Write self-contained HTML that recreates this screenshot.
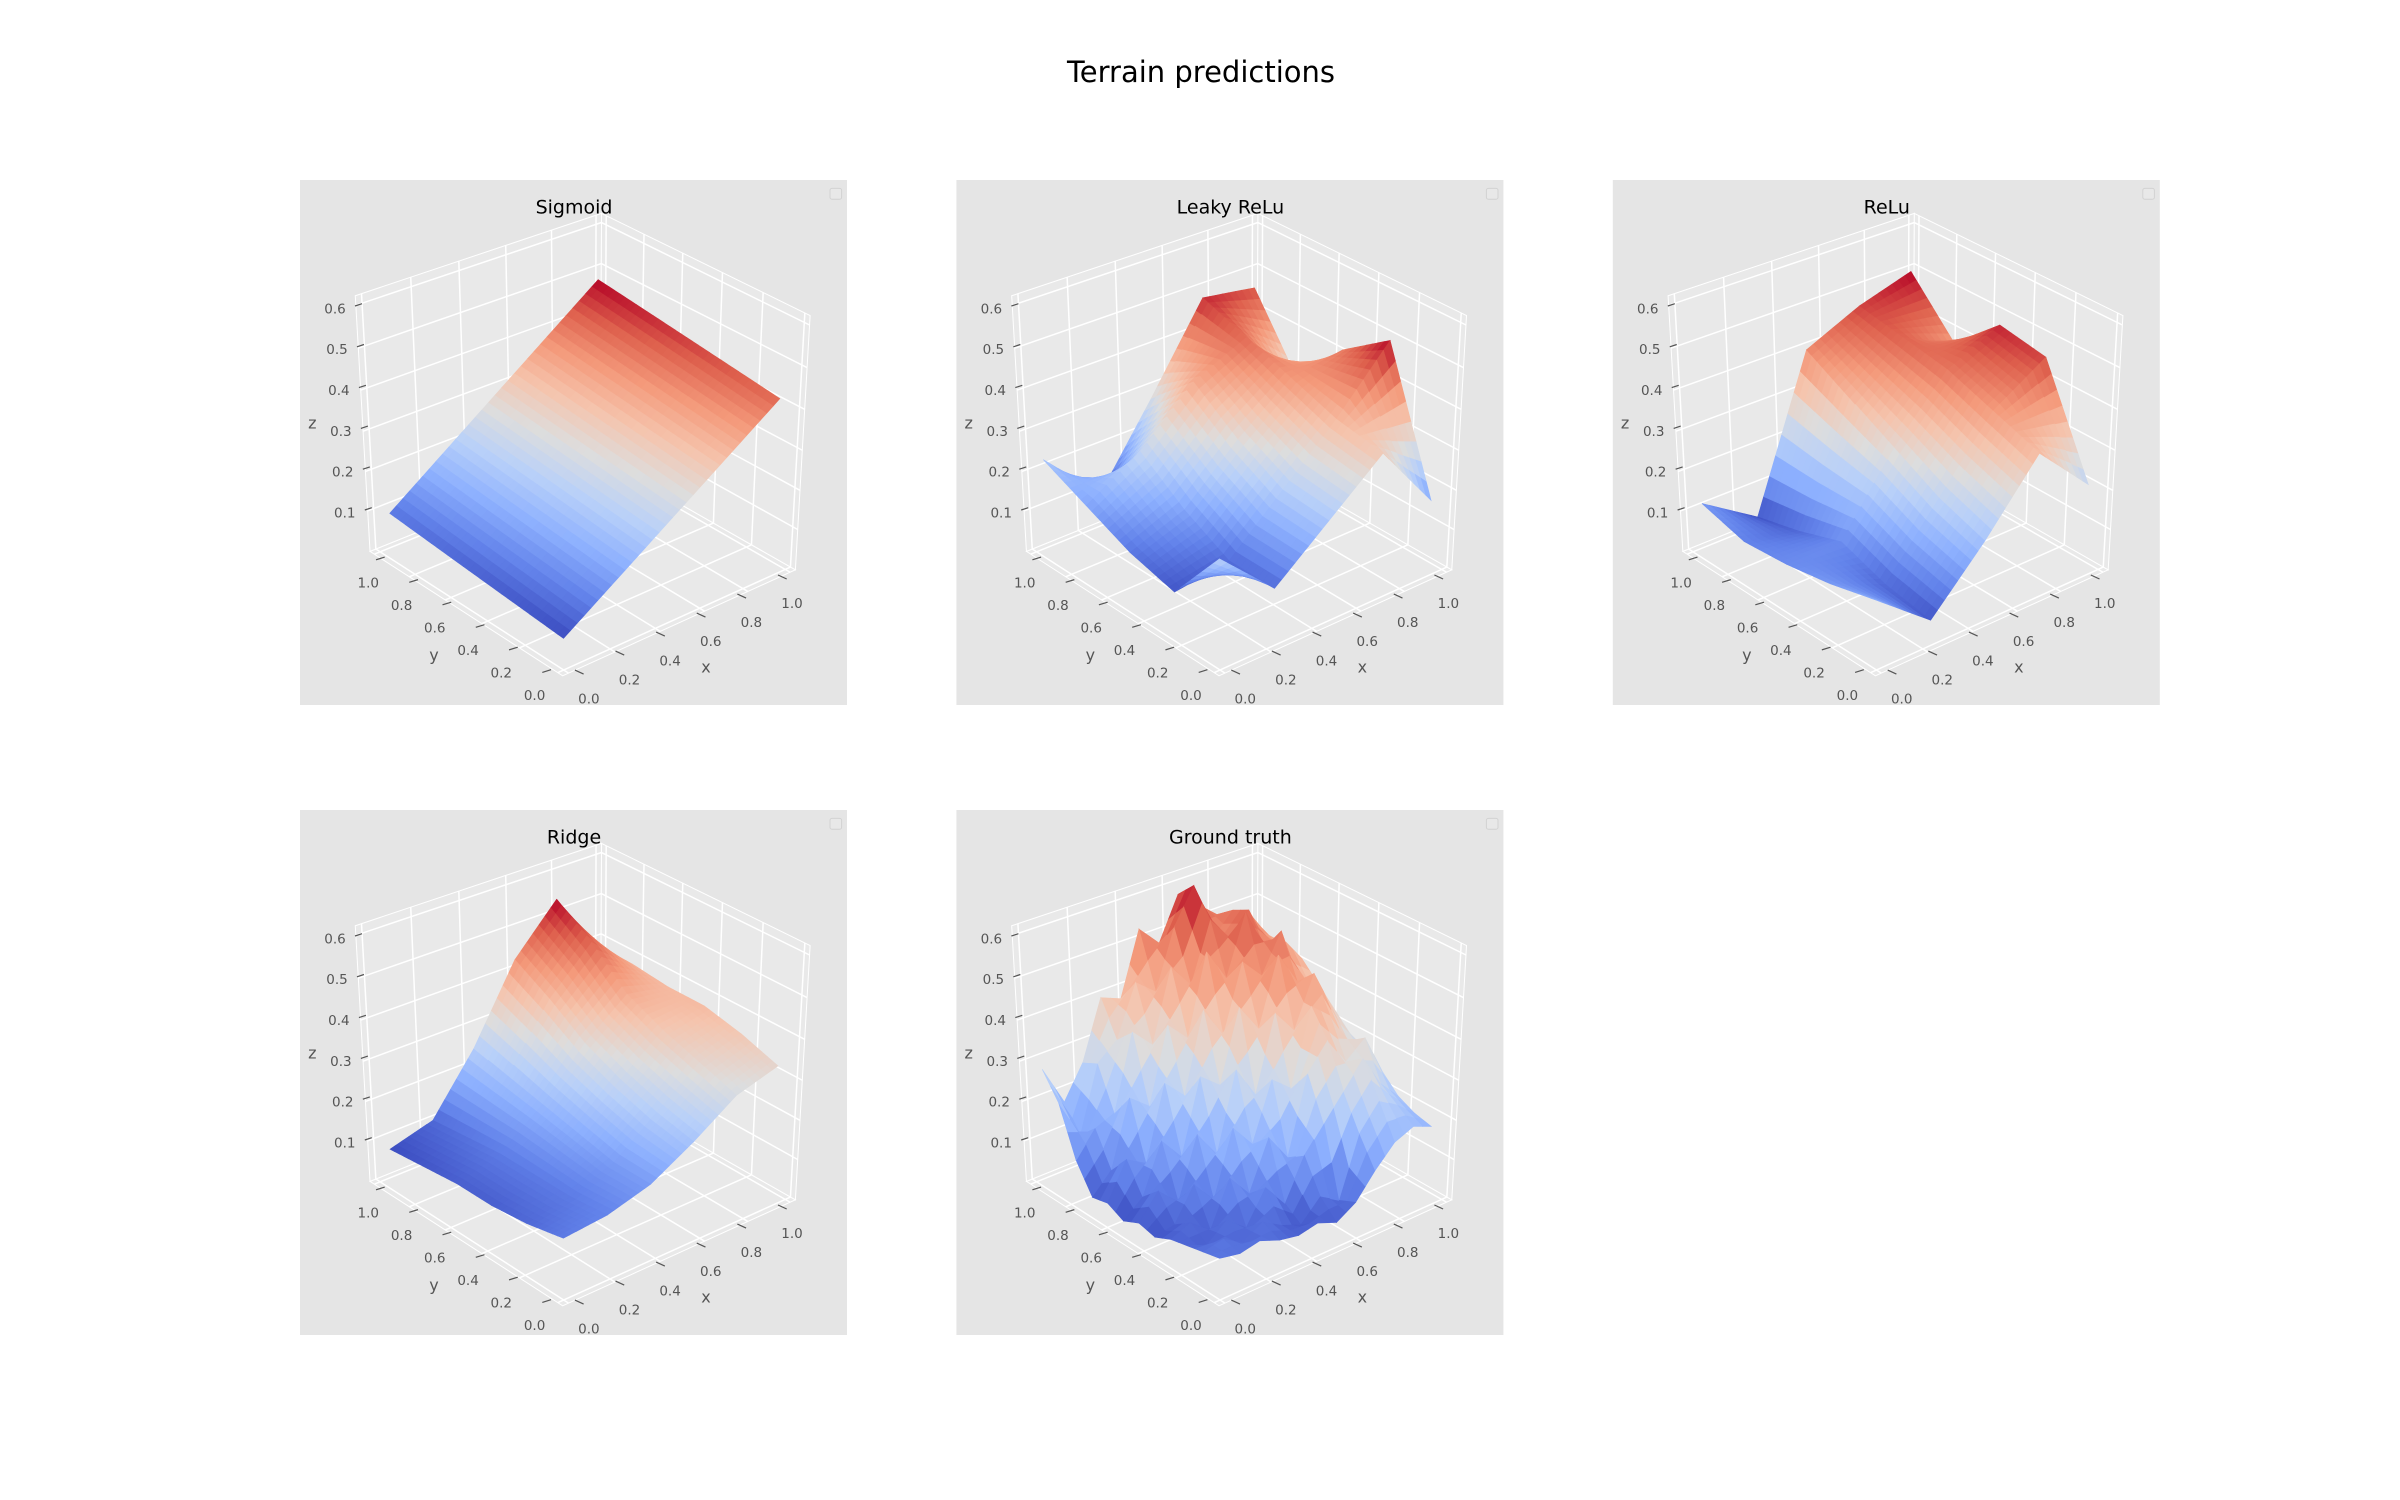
<!DOCTYPE html>
<html><head><meta charset="utf-8">
<style>
html,body{margin:0;padding:0;background:#fff}
svg{display:block}
text{font-family:"DejaVu Sans","Liberation Sans",sans-serif}
</style></head>
<body>
<svg id="fig" width="2400" height="1500" viewBox="0 0 2400 1500" xmlns="http://www.w3.org/2000/svg">
<rect width="2400" height="1500" fill="#ffffff"/>
<text x="1201" y="82" font-size="29" text-anchor="middle" fill="#000">Terrain predictions</text>
</svg>
<script>
// ---------- data ----------
const tickValsXY = [0, 0.2, 0.4, 0.6, 0.8, 1.0];
const tickValsZ = [0.1, 0.2, 0.3, 0.4, 0.5, 0.6];

const sigmoidX = [0, 0.93];
const sigmoidY = [0, 0.93];
const sigmoidZ = [
  [0.075, 0.44],
  [0.115, 0.50]
];

const fiveX = [0, 0.2325, 0.465, 0.6975, 0.93];
const fiveY = [0, 0.2325, 0.465, 0.6975, 0.93];

const leakyZ = [
  [0.27, 0.14, 0.25, 0.36, 0.19],
  [0.12, 0.14, 0.26, 0.38, 0.52],
  [0.15, 0.20, 0.32, 0.42, 0.44],
  [0.20, 0.28, 0.40, 0.46, 0.31],
  [0.25, 0.11, 0.30, 0.50, 0.48]
];

const reluZ = [
  [0.17, 0.06, 0.20, 0.36, 0.23],
  [0.14, 0.08, 0.24, 0.40, 0.48],
  [0.12, 0.12, 0.30, 0.44, 0.50],
  [0.11, 0.08, 0.36, 0.46, 0.40],
  [0.14, 0.05, 0.42, 0.48, 0.52]
];

const ridgeX = [0, 0.186, 0.372, 0.558, 0.744, 0.93];
const ridgeY = [0, 0.186, 0.372, 0.558, 0.744, 0.93];
const ridgeZ = [
  [0.15, 0.16, 0.19, 0.25, 0.32, 0.35],
  [0.13, 0.15, 0.19, 0.27, 0.35, 0.38],
  [0.12, 0.15, 0.21, 0.30, 0.38, 0.40],
  [0.12, 0.15, 0.23, 0.34, 0.42, 0.40],
  [0.11, 0.14, 0.25, 0.40, 0.50, 0.41],
  [0.10, 0.13, 0.27, 0.45, 0.56, 0.40]
];

const truthX = [0, 0.0845, 0.169, 0.2536, 0.3381, 0.4227, 0.5073, 0.5918, 0.6764, 0.7609, 0.8455, 0.93];
const truthY = [0, 0.0845, 0.169, 0.2536, 0.3381, 0.4227, 0.5073, 0.5918, 0.6764, 0.7609, 0.8455, 0.93];
const truthZ = [
  [0.10, 0.09, 0.10, 0.08, 0.07, 0.08, 0.06, 0.09, 0.15, 0.20, 0.22, 0.20],
  [0.09, 0.10, 0.07, 0.10, 0.07, 0.05, 0.10, 0.07, 0.22, 0.28, 0.25, 0.21],
  [0.08, 0.06, 0.10, 0.06, 0.14, 0.08, 0.18, 0.24, 0.30, 0.36, 0.28, 0.23],
  [0.07, 0.09, 0.05, 0.16, 0.10, 0.22, 0.15, 0.34, 0.40, 0.33, 0.37, 0.27],
  [0.05, 0.06, 0.14, 0.08, 0.24, 0.18, 0.32, 0.28, 0.46, 0.42, 0.34, 0.30],
  [0.06, 0.12, 0.07, 0.22, 0.15, 0.34, 0.26, 0.44, 0.38, 0.50, 0.40, 0.32],
  [0.04, 0.08, 0.20, 0.14, 0.32, 0.28, 0.45, 0.38, 0.54, 0.46, 0.44, 0.36],
  [0.06, 0.15, 0.12, 0.30, 0.25, 0.44, 0.36, 0.52, 0.47, 0.56, 0.42, 0.40],
  [0.05, 0.10, 0.26, 0.22, 0.40, 0.35, 0.54, 0.46, 0.60, 0.50, 0.50, 0.44],
  [0.12, 0.18, 0.20, 0.38, 0.33, 0.50, 0.44, 0.58, 0.52, 0.57, 0.47, 0.46],
  [0.24, 0.14, 0.30, 0.34, 0.46, 0.42, 0.56, 0.64, 0.50, 0.55, 0.52, 0.45],
  [0.30, 0.20, 0.28, 0.42, 0.40, 0.55, 0.50, 0.60, 0.56, 0.52, 0.49, 0.47]
];

// ---------- projection (panel-relative pixels) ----------
const XMIN = -0.025, XMAX = 1.025, YMIN = -0.025, YMAX = 1.025, ZMIN = -0.005, ZMAX = 0.622;
const PC = [282.7, 257.4], PEX = [239.55, -94.65], PEY = [-200.55, -113.75], PEZ = [0, -255];
const KH = 0.129, KZ = 0.067;
function proj(x, y, z) {
  const u = (x - XMIN) / (XMAX - XMIN), v = (y - YMIN) / (YMAX - YMIN), w = (z - ZMIN) / (ZMAX - ZMIN);
  const ox = (u - .5) * PEX[0] + (v - .5) * PEY[0] + (w - .5) * PEZ[0];
  const oy = (u - .5) * PEX[1] + (v - .5) * PEY[1] + (w - .5) * PEZ[1];
  const s = (1 + KH * (1 - u - v) / 2) * (1 + KZ * (w - .5));
  return [PC[0] + s * ox, PC[1] + s * oy, (u + v) * 0.6 - w * 0.45];
}

const CW = [[0,59,76,192],[0.125,98,130,234],[0.25,141,176,254],[0.375,184,208,249],[0.5,221,221,221],[0.625,245,196,173],[0.75,244,154,123],[0.875,222,96,77],[1,180,4,38]];
function coolwarm(t) {
  t = Math.max(0, Math.min(1, t));
  for (let i = 1; i < CW.length; i++) {
    if (t <= CW[i][0]) {
      const a = CW[i - 1], b = CW[i], f = (t - a[0]) / (b[0] - a[0]);
      return 'rgb(' + Math.round(a[1] + f * (b[1] - a[1])) + ',' + Math.round(a[2] + f * (b[2] - a[2])) + ',' + Math.round(a[3] + f * (b[3] - a[3])) + ')';
    }
  }
  return 'rgb(180,4,38)';
}

const NS = 'http://www.w3.org/2000/svg';
const fig = document.getElementById('fig');
function mk(tag, parent) { const e = document.createElementNS(NS, tag); parent.appendChild(e); return e; }
function pts(arr) { return arr.map(p => p[0].toFixed(2) + ',' + p[1].toFixed(2)).join(' '); }

const panels = [
  { key: 'sigmoid', title: 'Sigmoid', ox: 300, oy: 180, xs: sigmoidX, ys: sigmoidY, zs: sigmoidZ, sub: 32 },
  { key: 'leaky-relu', title: 'Leaky ReLu', ox: 956.4, oy: 180, xs: fiveX, ys: fiveY, zs: leakyZ, sub: 8 },
  { key: 'relu', title: 'ReLu', ox: 1612.8, oy: 180, xs: fiveX, ys: fiveY, zs: reluZ, sub: 8 },
  { key: 'ridge', title: 'Ridge', ox: 300, oy: 810, xs: ridgeX, ys: ridgeY, zs: ridgeZ, sub: 7 },
  { key: 'ground-truth', title: 'Ground truth', ox: 956.4, oy: 810, xs: truthX, ys: truthY, zs: truthZ, sub: 2 }
];

function line(parent, a, b, color, wdt) {
  const l = mk('line', parent);
  l.setAttribute('x1', a[0].toFixed(2)); l.setAttribute('y1', a[1].toFixed(2));
  l.setAttribute('x2', b[0].toFixed(2)); l.setAttribute('y2', b[1].toFixed(2));
  l.setAttribute('stroke', color); l.setAttribute('stroke-width', wdt);
  return l;
}

function drawPanel(P) {
  const g = mk('g', fig);
  g.setAttribute('transform', 'translate(' + P.ox + ',' + P.oy + ')');
  
  

  const bg = mk('rect', g);
  bg.setAttribute('width', 547); bg.setAttribute('height', 525); bg.setAttribute('fill', '#e5e5e5');
  
  

  const panes = [
    ['floor-pane', [[XMIN,YMIN,ZMIN],[XMAX,YMIN,ZMIN],[XMAX,YMAX,ZMIN],[XMIN,YMAX,ZMIN]]],
    ['back-left-pane', [[XMIN,YMAX,ZMIN],[XMAX,YMAX,ZMIN],[XMAX,YMAX,ZMAX],[XMIN,YMAX,ZMAX]]],
    ['back-right-pane', [[XMAX,YMIN,ZMIN],[XMAX,YMAX,ZMIN],[XMAX,YMAX,ZMAX],[XMAX,YMIN,ZMAX]]]
  ];
  panes.forEach(pn => {
    const p = mk('polygon', g);
    p.setAttribute('points', pts(pn[1].map(c => proj(c[0], c[1], c[2]))));
    p.setAttribute('fill', '#e9e9e9'); p.setAttribute('stroke', '#ffffff'); p.setAttribute('stroke-width', '1');
    
    
  });

  const gg = mk('g', g);
  
  
  tickValsXY.forEach(t => {
    line(gg, proj(t, YMIN, ZMIN), proj(t, YMAX, ZMIN), '#fff', 1.5);
    line(gg, proj(XMIN, t, ZMIN), proj(XMAX, t, ZMIN), '#fff', 1.5);
    line(gg, proj(t, YMAX, ZMIN), proj(t, YMAX, ZMAX), '#fff', 1.5);
    line(gg, proj(XMAX, t, ZMIN), proj(XMAX, t, ZMAX), '#fff', 1.5);
  });
  tickValsZ.forEach(t => {
    line(gg, proj(XMIN, YMAX, t), proj(XMAX, YMAX, t), '#fff', 1.5);
    line(gg, proj(XMAX, YMIN, t), proj(XMAX, YMAX, t), '#fff', 1.5);
  });

  const zs = P.zs, xs = P.xs, ys = P.ys;
  let vmin = Infinity, vmax = -Infinity;
  zs.forEach(r => r.forEach(v => { vmin = Math.min(vmin, v); vmax = Math.max(vmax, v); }));
  const quads = [];
  const m = P.sub;
  for (let j = 0; j < ys.length - 1; j++) {
    for (let i = 0; i < xs.length - 1; i++) {
      const z00 = zs[j][i], z10 = zs[j][i + 1], z01 = zs[j + 1][i], z11 = zs[j + 1][i + 1];
      const bl = (a, b) => z00 * (1 - a) * (1 - b) + z10 * a * (1 - b) + z01 * (1 - a) * b + z11 * a * b;
      for (let q = 0; q < m; q++) {
        for (let p = 0; p < m; p++) {
          const a0 = p / m, a1 = (p + 1) / m, b0 = q / m, b1 = (q + 1) / m;
          const X0 = xs[i] + (xs[i + 1] - xs[i]) * a0, X1 = xs[i] + (xs[i + 1] - xs[i]) * a1;
          const Y0 = ys[j] + (ys[j + 1] - ys[j]) * b0, Y1 = ys[j] + (ys[j + 1] - ys[j]) * b1;
          const c = [[X0, Y0, bl(a0, b0)], [X1, Y0, bl(a1, b0)], [X1, Y1, bl(a1, b1)], [X0, Y1, bl(a0, b1)]];
          const pr = c.map(k => proj(k[0], k[1], k[2]));
          const zavg = (c[0][2] + c[1][2] + c[2][2] + c[3][2]) / 4;
          const key = (pr[0][2] + pr[1][2] + pr[2][2] + pr[3][2]) / 4;
          quads.push({ pr: pr, z: zavg, key: key });
        }
      }
    }
  }
  quads.sort((a, b) => b.key - a.key);
  const sg = mk('g', g);
  
  
  quads.forEach(qd => {
    const col = coolwarm((qd.z - vmin) / (vmax - vmin));
    const pg = mk('polygon', sg);
    pg.setAttribute('points', pts(qd.pr));
    pg.setAttribute('fill', col);
    pg.setAttribute('stroke', col);
    pg.setAttribute('stroke-width', '0.6');
    
    
  });

  const lerp = (a, b, t) => [a[0] + (b[0] - a[0]) * t, a[1] + (b[1] - a[1]) * t];
  function label(txt, pos, size, color, name) {
    const t = mk('text', g);
    t.setAttribute('x', pos[0].toFixed(1)); t.setAttribute('y', pos[1].toFixed(1));
    t.setAttribute('font-size', size); t.setAttribute('fill', color);
    t.setAttribute('text-anchor', 'middle'); t.setAttribute('dominant-baseline', 'central');
    t.textContent = txt;
    
    
    return t;
  }
  tickValsZ.forEach(v => {
    const pos = lerp([44.8, 333.4], [35, 129.4], (v - 0.1) / 0.5);
    label(v.toFixed(1), pos, 13.5, '#555', 'z-tick-label');
    const tl = line(g, [pos[0] + 20, pos[1] - 3.4], [pos[0] + 27, pos[1] - 5.7], '#555', 1.2);
    
    
  });
  tickValsXY.forEach(v => {
    const py = lerp([234.6, 516], [68.3, 403.4], v);
    label(v.toFixed(1), py, 13.5, '#555', 'y-tick-label');
    const ty = line(g, [py[0] + 7.7, py[1] - 23.6], [py[0] + 16.4, py[1] - 26.3], '#555', 1.2);
    
    
    const px = lerp([288.9, 519.3], [492, 424.2], v);
    label(v.toFixed(1), px, 13.5, '#555', 'x-tick-label');
    const tx = line(g, [px[0] - 14, px[1] - 29.2], [px[0] - 5.3, px[1] - 25.2], '#555', 1.2);
    
    
  });
  label('z', [12.3, 243], 16, '#555', 'z-axis-title');
  label('y', [134, 475], 16, '#555', 'y-axis-title');
  label('x', [406, 487], 16, '#555', 'x-axis-title');
  label(P.title, [274, 27.6], 19, '#000', 'panel-title');

  const lg = mk('rect', g);
  lg.setAttribute('x', 530); lg.setAttribute('y', 8.4); lg.setAttribute('width', 11.6); lg.setAttribute('height', 10.8);
  lg.setAttribute('rx', 2); lg.setAttribute('fill', '#e8e8e8'); lg.setAttribute('stroke', '#d2d2d2'); lg.setAttribute('stroke-width', 1);
  
  
}

panels.forEach(drawPanel);
</script>
</body></html>
